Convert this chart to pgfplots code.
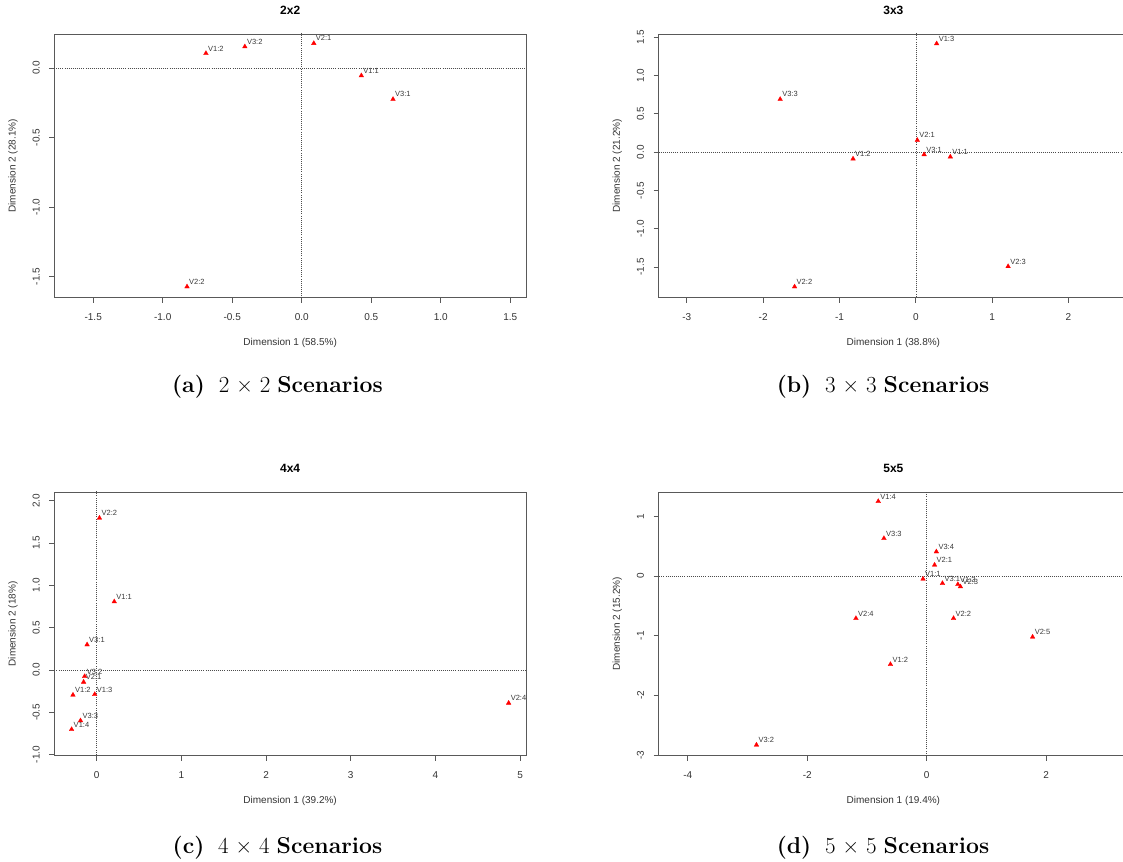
\documentclass[border=0pt]{standalone}
\usepackage{pgfplots}
\pgfplotsset{compat=1.18}
\usepackage{fontspec}
\setsansfont{Liberation Sans}
\definecolor{lblgray}{HTML}{3A3A3A}
\pgfplotsset{
  rplot/.style={
    scale only axis, anchor=south west,
    height=263.7pt,
    axis line style={black!65, line width=0.8pt},
    every tick/.style={black!65, line width=0.8pt},
    tick align=outside, major tick length=5pt,
    tick pos=left,
    ticklabel style={font=\sffamily\fontsize{10}{12}\selectfont, text=black!80, inner sep=0pt},
    xticklabel style={anchor=center},
    yticklabel style={rotate=90, anchor=center},
    xticklabel shift=14pt, yticklabel shift=13.2pt,
    /pgf/number format/assume math mode=true,
    title style={font=\sffamily\bfseries\fontsize{12}{14}\selectfont, anchor=base, at={(axis description cs:0.5,1)}, yshift=13.4pt, inner sep=0pt},
    xlabel style={font=\sffamily\fontsize{10}{12}\selectfont, text=black!80, anchor=base, at={(axis description cs:0.5,0)}, yshift=-47.6pt, inner sep=0pt},
    ylabel style={font=\sffamily\fontsize{10}{12}\selectfont, text=black!80, anchor=base, inner sep=0pt},
    clip=true,
  },
  ptlab/.style={only marks, mark=triangle*, mark size=2.7pt, color=red,
    mark options={fill=red, draw=red, line width=0.3pt},
    nodes near coords, point meta=explicit symbolic,
    nodes near coords style={anchor=base west, inner sep=0pt, xshift=2pt, yshift=2.3pt,
      font=\sffamily\fontsize{7.5}{9}\selectfont, text=lblgray}},
  zline/.style={black!70, line width=0.6pt, dash pattern=on 0.8pt off 1.3pt, forget plot},
}
\begin{document}
\begin{tikzpicture}
\useasboundingbox (0,0) rectangle (1123pt,861pt);

% ---------- 2x2 ----------
\begin{axis}[rplot, at={(54.4pt,563.3pt)}, width=471.5pt,
  title={2x2}, xlabel={Dimension 1 (58.5\%)}, ylabel={Dimension 2 (28.1\%)},
  ylabel style={at={(axis description cs:-0.0821,0.5)}},
  xmin=-1.779, xmax=1.613, ymin=-1.651, ymax=0.244,
  xtick={-1.5,-1,-0.5,0,0.5,1,1.5}, ytick={-1.5,-1,-0.5,0},
  /pgf/number format/.cd, fixed, fixed zerofill, precision=1]
\addplot[zline] coordinates {(0,-10) (0,10)};
\addplot[zline] coordinates {(-10,0) (10,0)};
\addplot[ptlab] table[meta=label] {
x y label
-0.689 0.105 V1:2
-0.409 0.153 V3:2
0.087 0.177 V2:1
0.429 -0.055 V1:1
0.657 -0.225 V3:1
-0.825 -1.572 V2:2
};
\end{axis}

% ---------- 3x3 ----------
\begin{axis}[rplot, at={(658.7pt,563.3pt)}, width=469.3pt,
  title={3x3}, xlabel={Dimension 1 (38.8\%)}, ylabel={Dimension 2 (21.2\%)},
  ylabel style={at={(axis description cs:-0.0825,0.5)}},
  xmin=-3.368, xmax=2.780, ymin=-1.90, ymax=1.543,
  xtick={-3,-2,-1,0,1,2}, ytick={-1.5,-1,-0.5,0,0.5,1,1.5},
  yticklabel={\pgfmathprintnumber[fixed,fixed zerofill,precision=1]{\tick}},
  xticklabel={\pgfmathprintnumber[fixed,precision=0]{\tick}}]
\addplot[zline] coordinates {(0,-10) (0,10)};
\addplot[zline] coordinates {(-10,0) (10,0)};
\addplot[ptlab] table[meta=label] {
x y label
0.273 1.417 V1:3
-1.777 0.691 V3:3
0.020 0.156 V2:1
0.109 -0.031 V3:1
0.452 -0.061 V1:1
-0.822 -0.087 V1:2
1.209 -1.492 V2:3
-1.588 -1.757 V2:2
};
\end{axis}

% ---------- 4x4 ----------
\begin{axis}[rplot, at={(54.4pt,105.3pt)}, width=471.5pt,
  title={4x4}, xlabel={Dimension 1 (39.2\%)}, ylabel={Dimension 2 (18\%)},
  ylabel style={at={(axis description cs:-0.0821,0.5)}},
  xmin=-0.50, xmax=5.069, ymin=-1.012, ymax=2.102,
  xtick={0,1,2,3,4,5}, ytick={-1,-0.5,0,0.5,1,1.5,2},
  yticklabel={\pgfmathprintnumber[fixed,fixed zerofill,precision=1]{\tick}},
  xticklabel={\pgfmathprintnumber[fixed,precision=0]{\tick}}]
\addplot[zline] coordinates {(0,-10) (0,10)};
\addplot[zline] coordinates {(-10,0) (10,0)};
\addplot[ptlab] table[meta=label] {
x y label
0.032 1.795 V2:2
0.207 0.807 V1:1
-0.114 0.299 V3:1
-0.143 -0.075 V3:2
-0.155 -0.142 V2:1
-0.281 -0.295 V1:2
-0.024 -0.288 V1:3
-0.192 -0.598 V3:3
-0.297 -0.701 V1:4
4.865 -0.390 V2:4
};
\end{axis}

% ---------- 5x5 ----------
\begin{axis}[rplot, at={(658.7pt,105.3pt)}, width=469.3pt,
  title={5x5}, xlabel={Dimension 1 (19.4\%)}, ylabel={Dimension 2 (15.2\%)},
  ylabel style={at={(axis description cs:-0.0825,0.5)}},
  xmin=-4.487, xmax=3.373, ymin=-3.008, ymax=1.406,
  xtick={-4,-2,0,2}, ytick={-3,-2,-1,0,1},
  /pgf/number format/.cd, fixed, precision=0]
\addplot[zline] coordinates {(0,-10) (0,10)};
\addplot[zline] coordinates {(-10,0) (10,0)};
\addplot[ptlab] table[meta=label] {
x y label
-0.810 1.250 V1:4
-0.715 0.630 V3:3
0.163 0.407 V3:4
0.133 0.184 V2:1
-0.060 -0.050 V1:1
0.265 -0.123 V3:1
0.523 -0.140 V1:3
0.566 -0.178 V2:3
-1.184 -0.709 V2:4
0.451 -0.709 V2:2
1.775 -1.021 V2:5
-0.606 -1.479 V1:2
-2.850 -2.828 V3:2
};
\end{axis}

% ---------- sub-captions ----------
\node[anchor=base, inner sep=0pt, font=\fontsize{23}{27}\selectfont] at (277.5pt,468pt) {\textbf{(a)}\ \ 2 × 2 \textbf{Scenarios}};
\node[anchor=base, inner sep=0pt, font=\fontsize{23}{27}\selectfont] at (883pt,468pt) {\textbf{(b)}\ \ 3 × 3 \textbf{Scenarios}};
\node[anchor=base, inner sep=0pt, font=\fontsize{23}{27}\selectfont] at (277.5pt,8pt) {\textbf{(c)}\ \ 4 × 4 \textbf{Scenarios}};
\node[anchor=base, inner sep=0pt, font=\fontsize{23}{27}\selectfont] at (883pt,8pt) {\textbf{(d)}\ \ 5 × 5 \textbf{Scenarios}};
\end{tikzpicture}
\end{document}
